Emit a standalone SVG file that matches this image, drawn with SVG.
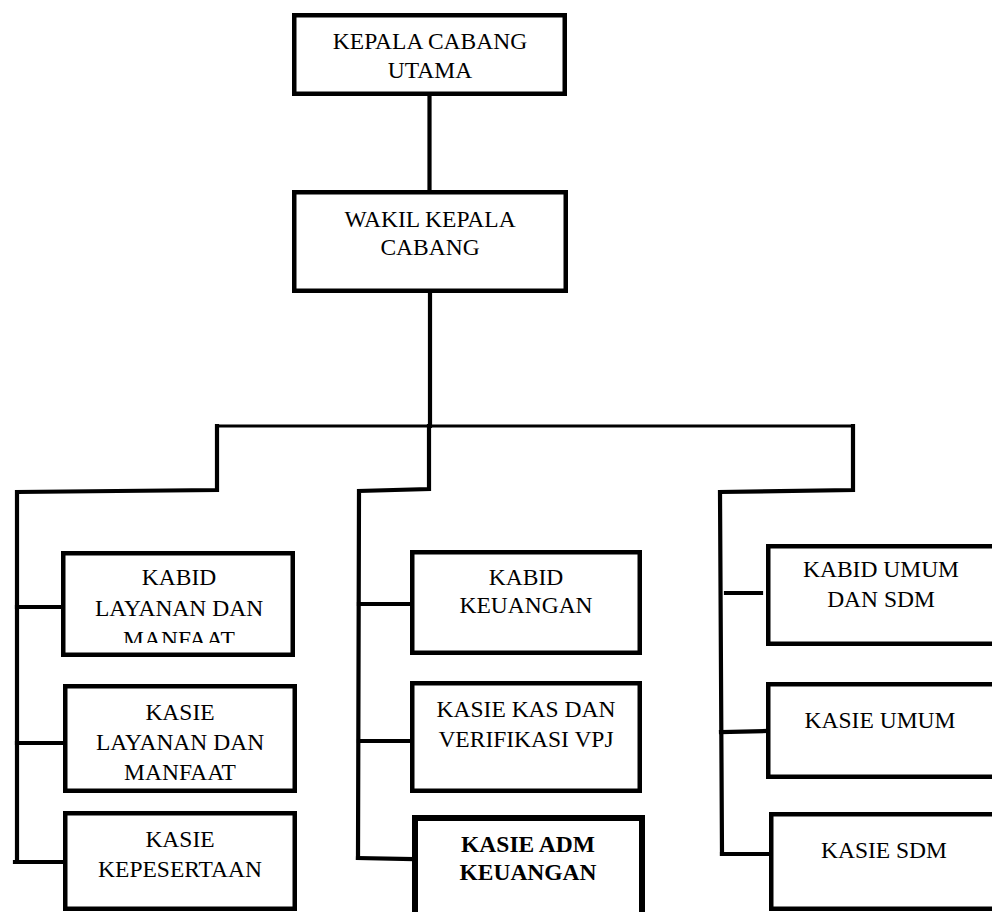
<svg xmlns="http://www.w3.org/2000/svg" width="992" height="912" viewBox="0 0 992 912">
<style>
.box{fill:#fff;stroke:#000;stroke-width:4.5}
.bold-box{fill:#fff;stroke:#000;stroke-width:6}
text{font-family:'Liberation Serif','DejaVu Serif','Times New Roman',serif;font-size:23.5px;fill:#000;text-anchor:middle}
.b{font-weight:bold}
.c{fill:none;stroke:#000;stroke-width:4.2;stroke-linecap:square;stroke-linejoin:miter}
.thin{stroke-width:3.2}
</style>
<defs>
<clipPath id="clipL1"><rect x="65" y="555" width="226" height="88"/></clipPath>
</defs>
<rect width="992" height="912" fill="#fff"/>
<g id="connectors">
<line class="c" x1="429.5" y1="96" x2="429.5" y2="190"/>
<line class="c" x1="430" y1="293" x2="430" y2="426"/>
<line class="c thin" x1="217" y1="426" x2="853" y2="426"/>
<polyline class="c" points="217,426 217,490 17,492 17,862"/>
<line class="c" x1="17" y1="607" x2="61" y2="607"/>
<line class="c" x1="17" y1="743" x2="63" y2="743"/>
<line class="c" x1="15" y1="862" x2="66" y2="862"/>
<polyline class="c" points="429,426 429,489 359,491 358,858"/>
<line class="c" x1="359" y1="604" x2="410" y2="604"/>
<line class="c" x1="359" y1="741" x2="410" y2="741"/>
<line class="c" x1="358" y1="858" x2="412" y2="859"/>
<polyline class="c" points="853,426 853,490 720,492 722,854"/>
<line class="c" x1="726" y1="593" x2="761" y2="593"/>
<line class="c" x1="721" y1="732" x2="766" y2="731"/>
<line class="c" x1="722" y1="854" x2="769" y2="854"/>
</g>
<g id="kepala-cabang-utama" font-family="Liberation Serif, serif">
<rect class="box" x="294.25" y="15.25" width="270.5" height="78.5"/>
<text x="430" y="49">KEPALA CABANG</text>
<text x="430" y="78">UTAMA</text>
</g>
<g id="wakil-kepala-cabang">
<rect class="box" x="294.25" y="192.25" width="271.5" height="98.5"/>
<text x="430" y="227">WAKIL KEPALA</text>
<text x="430" y="255">CABANG</text>
</g>
<g id="kabid-layanan">
<rect class="box" x="63.25" y="553.25" width="229.5" height="101.5"/>
<g clip-path="url(#clipL1)">
<text x="179" y="585">KABID</text>
<text x="179" y="616">LAYANAN DAN</text>
<text x="179" y="647">MANFAAT</text>
</g>
</g>
<g id="kasie-layanan">
<rect class="box" x="65.25" y="686.25" width="229.5" height="104.5"/>
<text x="180" y="720">KASIE</text>
<text x="180" y="750">LAYANAN DAN</text>
<text x="180" y="780">MANFAAT</text>
</g>
<g id="kasie-kepesertaan">
<rect class="box" x="65.25" y="813.25" width="229.5" height="95.5"/>
<text x="180" y="847">KASIE</text>
<text x="180" y="877">KEPESERTAAN</text>
</g>
<g id="kabid-keuangan">
<rect class="box" x="412.25" y="552.25" width="227.5" height="100.5"/>
<text x="526" y="585">KABID</text>
<text x="526" y="613">KEUANGAN</text>
</g>
<g id="kasie-kas">
<rect class="box" x="412.25" y="683.25" width="227.5" height="107.5"/>
<text x="526" y="717">KASIE KAS DAN</text>
<text x="526" y="747">VERIFIKASI VPJ</text>
</g>
<g id="kasie-adm-keuangan">
<rect class="bold-box" x="415" y="818" width="227" height="120"/>
<text class="b" x="528" y="852">KASIE ADM</text>
<text class="b" x="528" y="880">KEUANGAN</text>
</g>
<g id="kabid-umum-sdm">
<rect class="box" x="768.25" y="546.25" width="240" height="97.5"/>
<text x="881" y="577">KABID UMUM</text>
<text x="881" y="607">DAN SDM</text>
</g>
<g id="kasie-umum">
<rect class="box" x="768.25" y="684.25" width="240" height="92.5"/>
<text x="880" y="728">KASIE UMUM</text>
</g>
<g id="kasie-sdm">
<rect class="box" x="771.25" y="814.25" width="240" height="94.5"/>
<text x="884" y="858">KASIE SDM</text>
</g>
</svg>
